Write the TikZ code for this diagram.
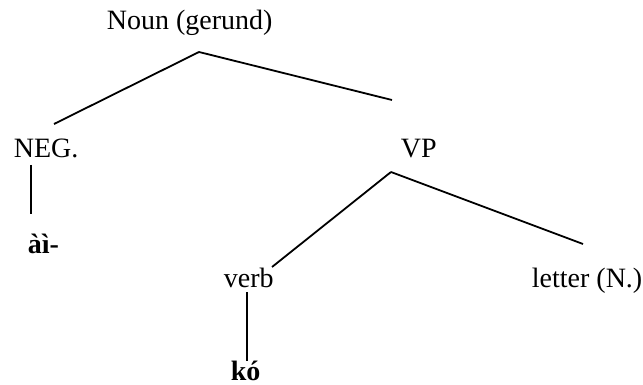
\documentclass[tikz,border=0pt]{standalone}
\usepackage{fontspec}
\setmainfont{Liberation Serif}
\usepackage{tikz}

\begin{document}
\begin{tikzpicture}[x=0.5pt, y=-0.5pt, line width=0.9pt,
    every node/.style={inner sep=0pt, anchor=base west, font=\fontsize{14}{16}\selectfont}]

    \useasboundingbox (0, 0) rectangle (643, 385);

    \node (noun) at (106, 30) {Noun (gerund)};
    \node (neg) at (13, 158) {NEG.};
    \node (vp) at (400, 158) {VP};
    \node (ai) at (27, 253) {\textbf{àì-}};
    \node (verb) at (223, 287) {verb};
    \node (letter) at (531, 287) {letter (N.)};
    \node (ko) at (230, 380) {\textbf{kó}};

    \coordinate (noun-b) at (199, 52);
    \coordinate (neg-t) at (54, 124);
    \coordinate (vp-t) at (392, 100);
    \coordinate (neg-b) at (31, 165);
    \coordinate (ai-t) at (31, 214);
    \coordinate (vp-b) at (391, 172);
    \coordinate (verb-t) at (272, 267);
    \coordinate (letter-t) at (583, 244);
    \coordinate (verb-b) at (247, 292);
    \coordinate (ko-t) at (247, 361);

    \draw (noun-b) -- (neg-t);
    \draw (noun-b) -- (vp-t);
    \draw (neg-b) -- (ai-t);
    \draw (vp-b) -- (verb-t);
    \draw (vp-b) -- (letter-t);
    \draw (verb-b) -- (ko-t);

\end{tikzpicture}
\end{document}
